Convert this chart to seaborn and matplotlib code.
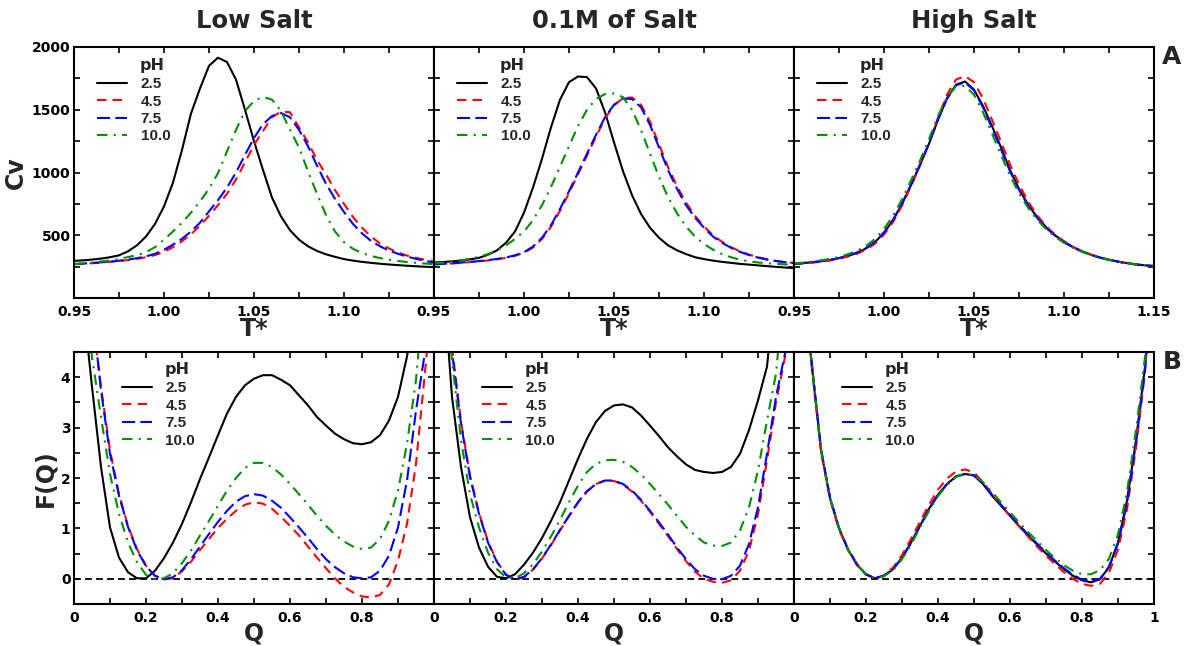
import numpy as np
import pandas as pd
import matplotlib
matplotlib.use("Agg")
import matplotlib.pyplot as plt
import seaborn as sns
from matplotlib.ticker import MultipleLocator

# ---------------------------------------------------------------- data
ph_levels = ["2.5", "4.5", "7.5", "10.0"]
salt_titles = ["Low Salt", "0.1M of Salt", "High Salt"]

# reduced temperature grid (0.95 .. 1.15, step 0.005)
t_star = np.round(np.linspace(0.95, 1.15, 41), 3)

# heat capacity curves, one list per pH
cv_low_25 = [296, 300, 306, 314, 325, 340, 372, 420, 490, 590, 730, 920, 1180, 1470, 1670, 1850, 1915, 1880, 1740, 1500,
             1250, 1020, 800, 650, 540, 465, 412, 375, 348, 328, 310, 298, 288, 280, 273, 267, 262, 257, 253, 249, 246]
cv_low_45 = [270, 273, 277, 282, 288, 294, 302, 312, 325, 342, 368, 405, 452, 508, 575, 655, 740, 830, 945, 1080,
             1220, 1330, 1440, 1485, 1480, 1360, 1240, 1100, 985, 860, 750, 645, 560, 490, 435, 395, 362, 338, 320, 305, 292]
cv_low_75 = [270, 274, 279, 284, 290, 297, 306, 317, 332, 352, 384, 425, 472, 530, 600, 690, 780, 880, 1000, 1140,
             1275, 1385, 1450, 1474, 1440, 1340, 1210, 1055, 910, 790, 685, 590, 515, 455, 412, 378, 352, 330, 312, 296, 282]
cv_low_100 = [270, 275, 281, 291, 300, 312, 326, 342, 365, 405, 465, 530, 600, 680, 770, 870, 995, 1168, 1340, 1490,
              1570, 1603, 1580, 1490, 1340, 1200, 1010, 830, 660, 530, 445, 392, 358, 335, 318, 305, 295, 287, 280, 275, 270]

cv_mid_25 = [283, 287, 292, 298, 308, 320, 345, 380, 440, 530, 680, 880, 1110, 1360, 1580, 1720, 1765, 1760, 1670, 1480,
             1240, 1010, 820, 670, 560, 480, 420, 380, 350, 325, 310, 298, 288, 280, 272, 266, 260, 254, 248, 243, 238]
cv_mid_45 = [268, 271, 275, 280, 286, 292, 299, 308, 320, 336, 360, 402, 470, 568, 695, 835, 985, 1135, 1285, 1430,
             1535, 1592, 1598, 1540, 1405, 1225, 1045, 890, 760, 655, 570, 500, 448, 405, 372, 346, 325, 309, 296, 286, 279]
cv_mid_75 = [268, 272, 277, 282, 288, 294, 302, 311, 323, 340, 365, 410, 480, 580, 710, 850, 1000, 1150, 1300, 1440,
             1540, 1590, 1585, 1520, 1380, 1200, 1020, 870, 740, 640, 560, 490, 440, 400, 368, 342, 322, 306, 294, 285, 278]
cv_mid_100 = [275, 282, 290, 300, 313, 328, 350, 380, 420, 470, 530, 620, 740, 885, 1045, 1210, 1370, 1500, 1585, 1625,
              1630, 1600, 1500, 1340, 1150, 965, 805, 675, 570, 490, 430, 385, 350, 325, 305, 292, 283, 277, 272, 268, 265]

cv_high_25 = [272, 278, 285, 293, 303, 318, 335, 360, 395, 445, 520, 620, 750, 900, 1060, 1230, 1420, 1590, 1700, 1725,
              1660, 1530, 1370, 1200, 1020, 870, 745, 645, 565, 500, 448, 406, 372, 345, 322, 305, 290, 278, 268, 260, 255]
cv_high_45 = [270, 275, 281, 289, 299, 313, 330, 352, 385, 432, 505, 605, 735, 890, 1055, 1235, 1435, 1620, 1740, 1768,
              1720, 1590, 1420, 1245, 1065, 905, 770, 660, 573, 505, 452, 408, 373, 345, 322, 304, 289, 276, 266, 258, 252]
cv_high_75 = [272, 278, 285, 293, 303, 318, 336, 362, 398, 448, 522, 622, 752, 902, 1062, 1235, 1425, 1590, 1695, 1718,
              1655, 1520, 1355, 1185, 1010, 862, 740, 640, 560, 497, 445, 404, 370, 344, 322, 305, 290, 278, 268, 260, 255]
cv_high_100 = [275, 282, 290, 300, 312, 328, 348, 376, 415, 470, 550, 655, 785, 935, 1095, 1265, 1450, 1600, 1690, 1690,
               1620, 1480, 1310, 1140, 975, 835, 720, 625, 550, 488, 440, 400, 368, 342, 320, 303, 289, 277, 268, 261, 256]

# reaction coordinate grid (0 .. 1, step 0.025)
q_coord = np.round(np.linspace(0.0, 1.0, 41), 3)

# free energy profiles, one list per pH
fq_low_25 = [7.0, 5.5, 3.81, 2.22, 1.02, 0.42, 0.13, 0.01, 0.01, 0.16, 0.41, 0.72, 1.09, 1.52, 1.98, 2.41, 2.85, 3.28, 3.61, 3.84,
             3.97, 4.04, 4.04, 3.95, 3.84, 3.64, 3.44, 3.21, 3.04, 2.88, 2.77, 2.69, 2.67, 2.71, 2.85, 3.14, 3.61, 4.41, 5.5, 7.0, 9.0]
fq_low_45 = [8.0, 6.5, 5.3, 3.81, 2.55, 1.68, 1.05, 0.59, 0.26, 0.06, -0.01, 0.01, 0.15, 0.34, 0.57, 0.79, 1.01, 1.19, 1.35, 1.47,
             1.52, 1.49, 1.39, 1.23, 1.05, 0.86, 0.64, 0.42, 0.21, 0.01, -0.16, -0.27, -0.35, -0.37, -0.32, -0.11, 0.36, 1.09, 2.28, 4.1, 6.0]
fq_low_75 = [8.0, 6.5, 5.4, 3.74, 2.48, 1.65, 1.03, 0.57, 0.25, 0.06, -0.01, 0.03, 0.17, 0.39, 0.64, 0.89, 1.13, 1.35, 1.53, 1.64,
             1.68, 1.65, 1.55, 1.41, 1.22, 1.02, 0.81, 0.59, 0.39, 0.23, 0.11, 0.03, 0.01, 0.03, 0.16, 0.46, 1.02, 1.95, 3.34, 4.5, 6.5]
fq_low_100 = [8.0, 6.0, 4.4, 3.21, 2.08, 1.29, 0.72, 0.33, 0.08, -0.01, 0.01, 0.11, 0.31, 0.56, 0.86, 1.15, 1.45, 1.75, 2.00, 2.20,
              2.30, 2.30, 2.22, 2.07, 1.88, 1.68, 1.47, 1.25, 1.05, 0.88, 0.74, 0.64, 0.59, 0.62, 0.79, 1.15, 1.75, 2.68, 3.94, 6.0, 8.0]

fq_mid_25 = [8.0, 6.0, 3.61, 2.22, 1.22, 0.62, 0.24, 0.04, 0.01, 0.09, 0.28, 0.52, 0.81, 1.15, 1.52, 1.95, 2.38, 2.78, 3.11, 3.33,
             3.44, 3.46, 3.40, 3.24, 3.04, 2.83, 2.61, 2.43, 2.27, 2.16, 2.12, 2.10, 2.12, 2.22, 2.48, 2.95, 3.54, 4.21, 6.0, 8.0, 10.0]
fq_mid_45 = [8.0, 6.5, 4.6, 3.12, 2.05, 1.31, 0.74, 0.34, 0.08, -0.02, 0.03, 0.18, 0.40, 0.67, 0.96, 1.24, 1.51, 1.73, 1.88, 1.95,
             1.94, 1.87, 1.73, 1.55, 1.33, 1.09, 0.85, 0.59, 0.35, 0.14, 0.00, -0.06, -0.08, -0.03, 0.16, 0.56, 1.28, 2.35, 3.50, 4.40, 6.0]
fq_mid_75 = [8.0, 6.5, 4.5, 3.08, 2.02, 1.29, 0.72, 0.33, 0.08, -0.01, 0.04, 0.19, 0.41, 0.68, 0.97, 1.25, 1.52, 1.74, 1.88, 1.95,
             1.95, 1.88, 1.75, 1.57, 1.35, 1.12, 0.88, 0.62, 0.39, 0.19, 0.06, 0.00, -0.01, 0.06, 0.26, 0.69, 1.42, 2.48, 3.61, 4.47, 6.0]
fq_mid_100 = [8.0, 6.0, 4.34, 2.75, 1.68, 1.02, 0.52, 0.19, 0.03, 0.01, 0.11, 0.29, 0.54, 0.84, 1.17, 1.52, 1.85, 2.12, 2.28, 2.35,
              2.36, 2.32, 2.22, 2.07, 1.88, 1.68, 1.47, 1.25, 1.03, 0.86, 0.72, 0.66, 0.65, 0.72, 0.96, 1.42, 2.15, 3.14, 4.07, 6.0, 8.0]

fq_high_25 = [8.0, 6.0, 4.2, 2.55, 1.60, 1.00, 0.58, 0.28, 0.09, 0.01, 0.06, 0.19, 0.42, 0.72, 1.05, 1.39, 1.67, 1.88, 2.03, 2.08,
              2.05, 1.88, 1.65, 1.45, 1.25, 1.05, 0.86, 0.68, 0.50, 0.34, 0.19, 0.06, -0.03, -0.07, -0.01, 0.23, 0.72, 1.55, 2.75, 4.21, 6.5]
fq_high_45 = [8.0, 6.0, 4.15, 2.52, 1.58, 0.98, 0.57, 0.27, 0.08, 0.01, 0.07, 0.22, 0.47, 0.79, 1.13, 1.47, 1.77, 1.99, 2.13, 2.17,
              2.11, 1.92, 1.68, 1.46, 1.25, 1.04, 0.84, 0.64, 0.46, 0.29, 0.13, 0.00, -0.10, -0.14, -0.10, 0.12, 0.58, 1.38, 2.60, 4.10, 6.5]
fq_high_75 = [8.0, 6.0, 4.25, 2.58, 1.62, 1.01, 0.59, 0.29, 0.09, 0.01, 0.06, 0.19, 0.41, 0.71, 1.04, 1.38, 1.66, 1.88, 2.03, 2.08,
              2.05, 1.89, 1.67, 1.47, 1.27, 1.07, 0.88, 0.70, 0.52, 0.36, 0.21, 0.08, -0.02, -0.05, 0.00, 0.24, 0.70, 1.50, 2.70, 4.15, 6.5]
fq_high_100 = [8.0, 6.0, 4.22, 2.56, 1.61, 1.00, 0.58, 0.28, 0.09, 0.01, 0.05, 0.17, 0.39, 0.68, 1.01, 1.35, 1.64, 1.86, 2.02, 2.08,
               2.06, 1.92, 1.72, 1.52, 1.32, 1.12, 0.93, 0.75, 0.57, 0.41, 0.27, 0.16, 0.09, 0.09, 0.17, 0.40, 0.88, 1.72, 2.95, 4.40, 6.5]

cv_panels = [[cv_low_25, cv_low_45, cv_low_75, cv_low_100],
             [cv_mid_25, cv_mid_45, cv_mid_75, cv_mid_100],
             [cv_high_25, cv_high_45, cv_high_75, cv_high_100]]
fq_panels = [[fq_low_25, fq_low_45, fq_low_75, fq_low_100],
             [fq_mid_25, fq_mid_45, fq_mid_75, fq_mid_100],
             [fq_high_25, fq_high_45, fq_high_75, fq_high_100]]

t_ticks = [0.95, 1.00, 1.05, 1.10, 1.15]
t_ticklabels = ["0.95", "1.00", "1.05", "1.10", "1.15"]
cv_ticks = [0, 500, 1000, 1500, 2000]
cv_ticklabels = ["", "500", "1000", "1500", "2000"]
q_ticks = [0, 0.2, 0.4, 0.6, 0.8, 1.0]
q_ticklabels = ["0", "0.2", "0.4", "0.6", "0.8", "1"]
f_ticks = [0, 1, 2, 3, 4]
f_ticklabels = ["0", "1", "2", "3", "4"]

# ---------------------------------------------------------------- style
sns.set_theme(style="ticks")
plt.rcParams.update({
    "font.family": ["DejaVu Sans"],
    "font.weight": "bold",
    "axes.labelweight": "bold",
    "axes.titleweight": "bold",
    "axes.linewidth": 1.5,
    "axes.edgecolor": "black",
    "xtick.color": "black",
    "ytick.color": "black",
    "lines.solid_joinstyle": "round",
    "lines.dash_joinstyle": "round",
})

palette = {"2.5": "black", "4.5": "#ff0000", "7.5": "#0000ff", "10.0": "#009000"}
dash_map = {"2.5": "", "4.5": (4.5, 3.0), "7.5": (6.3, 2.5), "10.0": (5.0, 3.0, 1.0, 3.0)}
legend_font = {"family": "Liberation Sans", "weight": "bold", "size": 11}


def long_frame(x, series, xname, yname):
    return pd.DataFrame({
        xname: np.tile(x, len(ph_levels)),
        yname: np.concatenate([np.asarray(s, dtype=float) for s in series]),
        "pH": np.repeat(ph_levels, len(x)),
    })


def style_axis(ax):
    ax.tick_params(which="both", direction="in", top=True, right=True,
                   length=4, width=1.2, labelsize=10)
    ax.tick_params(axis="x", which="both", pad=5)
    ax.tick_params(axis="y", which="both", pad=2.5)
    for sp in ax.spines.values():
        sp.set_linewidth(1.5)


def add_legend(ax, x_handle, y_top, x_title, y_title, lines):
    ax.legend(lines, ph_levels, loc="upper left", bbox_to_anchor=(x_handle, y_top),
              frameon=False, prop=legend_font, handlelength=1.95, handletextpad=0.9,
              labelspacing=0.22, borderpad=0, borderaxespad=0)
    ax.text(x_title, y_title, "pH", transform=ax.transAxes, ha="left", va="baseline",
            fontsize=11.5, fontweight="bold")


fig = plt.figure(figsize=(11.89, 6.46), dpi=100)
left = 74 / 1189
width = 360 / 1189
top_row = (1 - 298 / 646, 251 / 646)
bottom_row = (1 - 604 / 646, 252 / 646)

for col in range(3):
    # ---- heat capacity
    ax = fig.add_axes([left + col * width, top_row[0], width, top_row[1]])
    df = long_frame(t_star, cv_panels[col], "T", "Cv")
    sns.lineplot(data=df, x="T", y="Cv", hue="pH", style="pH", hue_order=ph_levels,
                 style_order=ph_levels, palette=palette, dashes=dash_map,
                 linewidth=1.5, legend=False, ax=ax)
    ax.set_xlim(0.95, 1.15)
    ax.set_ylim(0, 2000)
    ax.set_xticks(t_ticks)
    ax.set_xticklabels(t_ticklabels if col == 2 else t_ticklabels[:-1] + [""])
    ax.set_yticks(cv_ticks)
    ax.set_yticklabels(cv_ticklabels if col == 0 else [""] * len(cv_ticks))
    ax.xaxis.set_minor_locator(MultipleLocator(0.025))
    ax.yaxis.set_minor_locator(MultipleLocator(250))
    style_axis(ax)
    ax.set_xlabel("T*", fontsize=17)
    ax.xaxis.set_label_coords(0.5, -0.075)
    ax.set_ylabel("Cv" if col == 0 else "", fontsize=17)
    ax.yaxis.set_label_coords(-0.128, 0.5)
    ax.set_title(salt_titles[col], fontsize=17.5, pad=14)
    add_legend(ax, 0.064, 0.879, 0.183, 0.908, ax.lines[:4])

    # ---- free energy profile
    ax = fig.add_axes([left + col * width, bottom_row[0], width, bottom_row[1]])
    df = long_frame(q_coord, fq_panels[col], "Q", "F")
    sns.lineplot(data=df, x="Q", y="F", hue="pH", style="pH", hue_order=ph_levels,
                 style_order=ph_levels, palette=palette, dashes=dash_map,
                 linewidth=1.5, legend=False, ax=ax)
    curves = list(ax.lines[:4])
    ax.axhline(0, color="black", linewidth=1.3, dashes=(3.8, 2.3), zorder=1)
    ax.set_xlim(0, 1)
    ax.set_ylim(-0.5, 4.5)
    ax.set_xticks(q_ticks)
    ax.set_xticklabels(q_ticklabels if col == 2 else q_ticklabels[:-1] + [""])
    ax.set_yticks(f_ticks)
    ax.set_yticklabels(f_ticklabels if col == 0 else [""] * len(f_ticks))
    ax.xaxis.set_minor_locator(MultipleLocator(0.1))
    ax.yaxis.set_minor_locator(MultipleLocator(0.5))
    style_axis(ax)
    ax.set_xlabel("Q", fontsize=17)
    ax.xaxis.set_label_coords(0.5, -0.07)
    ax.set_ylabel("F(Q)" if col == 0 else "", fontsize=17)
    ax.yaxis.set_label_coords(-0.047, 0.5)
    add_legend(ax, 0.133, 0.883, 0.253, 0.913, curves)

fig.text(1172 / 1189, 1 - 57 / 646, "A", ha="center", va="center", fontsize=18, fontweight="bold")
fig.text(1172 / 1189, 1 - 362 / 646, "B", ha="center", va="center", fontsize=18, fontweight="bold")

fig.savefig("out.png", dpi=100)
